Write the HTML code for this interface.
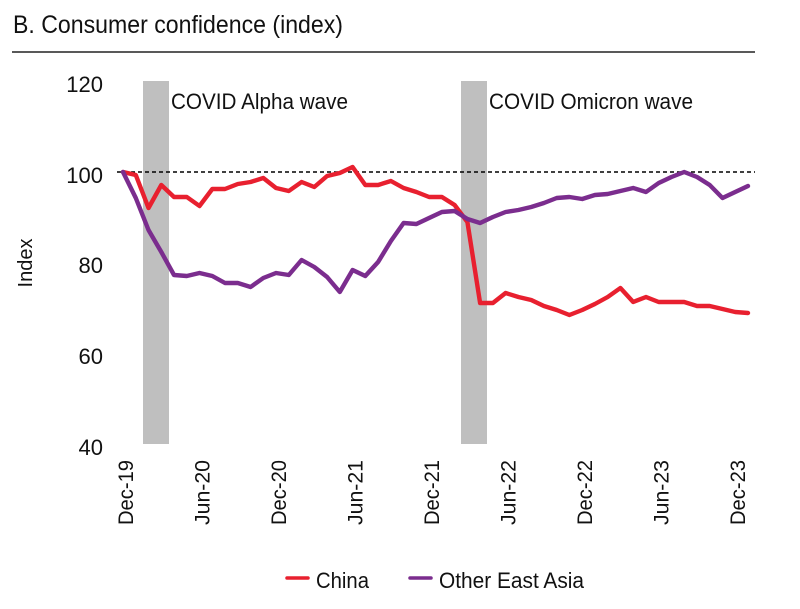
<!DOCTYPE html>
<html>
<head>
<meta charset="utf-8">
<style>
html,body{margin:0;padding:0;background:#fff;}
svg{display:block;}
text{font-family:"Liberation Sans",sans-serif;fill:#111;}
</style>
</head>
<body>
<svg width="800" height="609" viewBox="0 0 800 609" xmlns="http://www.w3.org/2000/svg">
  <!-- Title -->
  <text x="13" y="33" font-size="25" textLength="330" lengthAdjust="spacingAndGlyphs">B. Consumer confidence (index)</text>
  <line x1="12" y1="52" x2="755" y2="52" stroke="#222" stroke-width="1.6"/>

  <!-- Shaded bars -->
  <rect x="143" y="81" width="26" height="363" fill="#bfbfbf"/>
  <rect x="461" y="81" width="26" height="363" fill="#bfbfbf"/>

  <!-- Annotations -->
  <text x="171" y="109" font-size="22" textLength="177" lengthAdjust="spacingAndGlyphs">COVID Alpha wave</text>
  <text x="489" y="109" font-size="22" textLength="204" lengthAdjust="spacingAndGlyphs">COVID Omicron wave</text>

  <!-- Y tick labels -->
  <g font-size="22" text-anchor="end">
    <text x="103" y="92">120</text>
    <text x="103" y="183">100</text>
    <text x="103" y="273">80</text>
    <text x="103" y="364">60</text>
    <text x="103" y="455">40</text>
  </g>
  <text transform="translate(32,263) rotate(-90)" font-size="20" text-anchor="middle">Index</text>

  <!-- Reference line -->
  <line x1="117" y1="172" x2="755" y2="172" stroke="#000" stroke-width="1.5" stroke-dasharray="4,3"/>

  <!-- China -->
  <polyline fill="none" stroke="#e8202f" stroke-width="4.4" stroke-linejoin="round" stroke-linecap="round"
    points="123,172 135.8,175 148.5,208 161.3,185 174,197 186.8,197 199.5,206 212.3,189 225,189 237.8,184 250.6,182 263.3,178 276,188 288.8,191 301.6,182 314.3,187 327.1,176 339.8,173 352.6,167 365.3,185 378.1,185 390.9,181 403.6,188 416.4,192 429.1,197 441.9,197 454.6,205 467.4,222 480.1,303 492.9,303 505.6,293 518.4,297 531.2,300 543.9,306 556.7,310 569.4,315 582.2,310 594.9,304 607.7,297 620.4,288 633.2,302 646,297 658.7,302 671.5,302 684.2,302 697,306 709.7,306 722.5,309 735.2,312 748,313"/>

  <!-- Other East Asia -->
  <polyline fill="none" stroke="#7b2d8e" stroke-width="4.4" stroke-linejoin="round" stroke-linecap="round"
    points="123,172 135.8,198 148.5,230 161.3,252 174,275 186.8,276 199.5,273 212.3,276 225,283 237.8,283 250.6,287 263.3,278 276,273 288.8,275 301.6,260 314.3,267 327.1,277 339.8,292 352.6,270 365.3,276 378.1,262 390.9,241 403.6,223 416.4,224 429.1,218 441.9,212 454.6,211 467.4,219 480.1,223 492.9,217 505.6,212 518.4,210 531.2,207 543.9,203 556.7,198 569.4,197 582.2,199 594.9,195 607.7,194 620.4,191 633.2,188 646,192 658.7,183 671.5,177 684.2,172 697,177 709.7,185 722.5,198 735.2,192 748,186"/>

  <!-- X tick labels -->
  <g font-size="21" text-anchor="end">
    <text transform="translate(133,460) rotate(-90)" textLength="65" lengthAdjust="spacingAndGlyphs">Dec-19</text>
    <text transform="translate(209.5,460) rotate(-90)" textLength="65" lengthAdjust="spacingAndGlyphs">Jun-20</text>
    <text transform="translate(286,460) rotate(-90)" textLength="65" lengthAdjust="spacingAndGlyphs">Dec-20</text>
    <text transform="translate(362.6,460) rotate(-90)" textLength="65" lengthAdjust="spacingAndGlyphs">Jun-21</text>
    <text transform="translate(439.1,460) rotate(-90)" textLength="65" lengthAdjust="spacingAndGlyphs">Dec-21</text>
    <text transform="translate(515.7,460) rotate(-90)" textLength="65" lengthAdjust="spacingAndGlyphs">Jun-22</text>
    <text transform="translate(592.2,460) rotate(-90)" textLength="65" lengthAdjust="spacingAndGlyphs">Dec-22</text>
    <text transform="translate(668.7,460) rotate(-90)" textLength="65" lengthAdjust="spacingAndGlyphs">Jun-23</text>
    <text transform="translate(745.2,460) rotate(-90)" textLength="65" lengthAdjust="spacingAndGlyphs">Dec-23</text>
  </g>

  <!-- Legend -->
  <line x1="287" y1="578" x2="308" y2="578" stroke="#e8202f" stroke-width="3.5" stroke-linecap="round"/>
  <text x="316" y="588" font-size="22" textLength="53" lengthAdjust="spacingAndGlyphs">China</text>
  <line x1="410" y1="578" x2="431" y2="578" stroke="#7b2d8e" stroke-width="3.5" stroke-linecap="round"/>
  <text x="439" y="588" font-size="22" textLength="145" lengthAdjust="spacingAndGlyphs">Other East Asia</text>
</svg>
</body>
</html>
